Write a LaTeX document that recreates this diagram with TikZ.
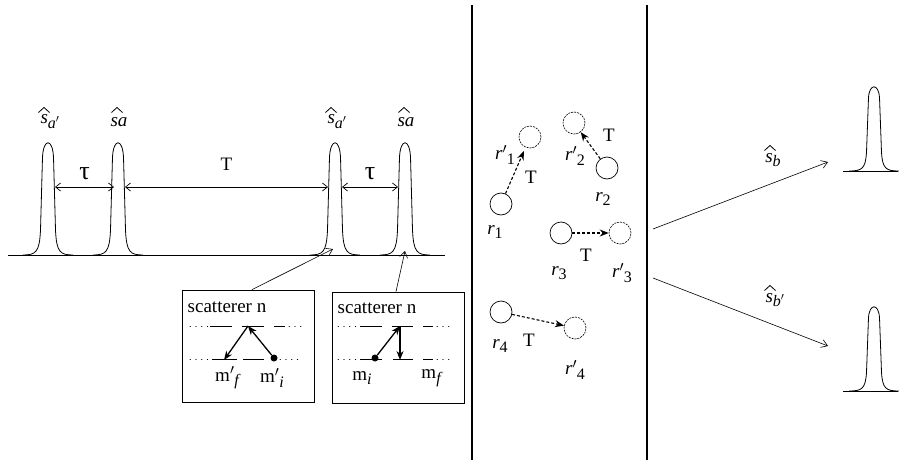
\documentclass[tikz,border=0pt]{standalone}
\usepackage{amsmath}
\usepackage{fontspec}
\setmainfont{Liberation Serif}
\usetikzlibrary{positioning, arrows.meta}

\newcommand{\subtxt}[1]{\raisebox{-0.55ex}{\fontsize{16}{16}\selectfont #1}}

\begin{document}
\begin{tikzpicture}[x=1pt, y=-1pt,
    lbl/.style={font=\fontsize{19}{22}\selectfont, inner sep=0pt},
    greek/.style={font=\fontsize{26}{28}\selectfont, inner sep=0pt},
    ebox/.style={rectangle, draw, line width=0.8pt,
                 minimum width=132pt, minimum height=112pt},
    atom/.style={circle, draw, line width=0.7pt, minimum size=22pt, inner sep=0pt},
    ghost/.style={atom, dash pattern=on 2pt off 1pt, line width=0.6pt},
    jump/.style={line width=1.3pt, -{Stealth[length=9pt, width=7pt]}},
    move/.style={line width=1.1pt, dash pattern=on 3pt off 2pt,
                 -{Stealth[length=9pt, width=7pt]}},
    dim/.style={line width=0.7pt,
                {Straight Barb[length=5pt, width=8pt]}-{Straight Barb[length=5pt, width=8pt]}},
    feed/.style={line width=0.6pt, -{Straight Barb[length=6pt, width=8pt]}},
    lvl/.style={line width=0.8pt},
    dots/.style={line width=1pt, line cap=round, dash pattern=on 0.3pt off 5.5pt},
    hatmark/.pic={\draw[line width=0.8pt] (-5.5,2.5) -- (0,-2.5) -- (5.5,2.5);},
    pulse/.pic={\draw[line width=0.8pt] (-25,0) .. controls (-12,0) and (-8.5,-3) .. (-7.5,-25)
                -- (-5.5,-98) .. controls (-4.5,-117) and (4.5,-117) .. (5.5,-98)
                -- (7.5,-25) .. controls (8.5,-3) and (12,0) .. (25,0);}
]
  \useasboundingbox (0,0) rectangle (899,460);

  % incoming pulse train
  \draw[line width=0.8pt] (8,255) -- (445,255);
  \foreach \px in {48,118,335,405}
    \pic at (\px,255) {pulse};
  \node[lbl] (sa1) at (50,122) {\textit{s}\subtxt{\textit{a}$'$}};
  \node[lbl] (sb1) at (119,122) {\textit{sa}};
  \node[lbl] (sa2) at (337,122) {\textit{s}\subtxt{\textit{a}$'$}};
  \node[lbl] (sb2) at (406,122) {\textit{sa}};
  \pic at ([shift={(-6,-12)}]sa1) {hatmark};
  \pic at ([shift={(-2,-12)}]sb1) {hatmark};
  \pic at ([shift={(-6,-12)}]sa2) {hatmark};
  \pic at ([shift={(-2,-12)}]sb2) {hatmark};

  % delays
  \coordinate (t1a) at (55,187);
  \coordinate (t1b) at (114,187);
  \coordinate (Ta) at (125,187);
  \coordinate (Tb) at (328,187);
  \coordinate (t2a) at (342,187);
  \coordinate (t2b) at (398,187);
  \draw[dim] (t1a) -- (t1b) node[midway, above=7pt, greek] {τ};
  \draw[dim] (Ta) -- (Tb) node[midway, above=16pt, lbl] {T};
  \draw[dim] (t2a) -- (t2b) node[midway, above=7pt, greek] {τ};

  % scatterer boxes
  \node[ebox] (boxp) at (248,346) {};
  \node[ebox, minimum height=111pt] (boxq) at (398,347.5) {};
  \coordinate (hit3) at (333,249);
  \coordinate (hit4) at (405,251);
  \draw[feed] ([xshift=4pt]boxp.north) -- (hit3);
  \draw[feed] ([xshift=-2pt]boxq.north) -- (hit4);
  \node[lbl] (scp) at (227,307) {scatterer n};
  \node[lbl] (scq) at (377,308) {scatterer n};

  % levels, left box
  \draw[dots] (190,326) -- (208,326);
  \draw[dots] (289,326) -- (303,326);
  \draw[dots] (190,359) -- (208,359);
  \draw[dots] (280,359) -- (303,359);
  \foreach \a/\b in {210/232, 242/264, 274/285}
    \draw[lvl] (\a,326) -- (\b,326);
  \foreach \a/\b in {212/237, 243/264}
    \draw[lvl] (\a,359) -- (\b,359);
  \node[circle, fill, inner sep=0pt, minimum size=7pt] (mip) at (274,358) {};
  \coordinate (topp) at (248,326);
  \coordinate (mfp) at (224,360);
  \draw[jump] (mip) -- (topp);
  \draw[jump] (topp) -- (mfp);
  \node[lbl] (mfpl) at (228,378) {m$'$\subtxt{\textit{f}}};
  \node[lbl] (mipl) at (272,378) {m$'$\subtxt{\textit{i}}};

  % levels, right box
  \draw[dots] (338,326) -- (357,326);
  \draw[dots] (437,326) -- (453,326);
  \draw[dots] (338,359) -- (357,359);
  \draw[dots] (437,359) -- (453,359);
  \foreach \a/\b in {360/382, 392/413, 423/433}
    \draw[lvl] (\a,326) -- (\b,326);
  \foreach \a/\b in {360/382, 393/413, 423/433}
    \draw[lvl] (\a,359) -- (\b,359);
  \node[circle, fill, inner sep=0pt, minimum size=7pt] (miq) at (375,358) {};
  \coordinate (topq) at (400,326);
  \coordinate (mfq) at (400,360);
  \draw[jump] (miq) -- (topq);
  \draw[jump] (topq) -- (mfq);
  \node[lbl] (miql) at (362,378) {m\subtxt{\textit{i}}};
  \node[lbl] (mfql) at (432,378) {m\subtxt{\textit{f}}};

  % medium
  \draw[line width=1.2pt] (472,5) -- (472,460);
  \draw[line width=1.2pt] (647,5) -- (647,460);

  \node[atom] (r1) at (501,204) {};
  \node[ghost] (r1p) at (530,137) {};
  \node[atom] (r2) at (607,168) {};
  \node[ghost] (r2p) at (574,123) {};
  \node[atom] (r3) at (561,233) {};
  \node[ghost] (r3p) at (620,233) {};
  \node[atom] (r4) at (501,312) {};
  \node[ghost] (r4p) at (575,328) {};
  \draw[move, shorten >=4pt] (r1) -- (r1p);
  \draw[move] (r2) -- (r2p);
  \draw[move] (r3) -- (r3p);
  \draw[move] (r4) -- (r4p);

  \node[lbl] (l1p) at (505,155) {\textit{r}$'$\subtxt{1}};
  \node[lbl] (T1) at (531,177) {T};
  \node[lbl] (l1) at (495,232) {\textit{r}\subtxt{1}};
  \node[lbl] (l2p) at (575,156) {\textit{r}$'$\subtxt{2}};
  \node[lbl] (T2) at (609,135) {T};
  \node[lbl] (l2) at (603,199) {\textit{r}\subtxt{2}};
  \node[lbl] (T3) at (586,255) {T};
  \node[lbl] (l3) at (559,273) {\textit{r}\subtxt{3}};
  \node[lbl] (l3p) at (622,273) {\textit{r}$'$\subtxt{3}};
  \node[lbl] (l4) at (500,346) {\textit{r}\subtxt{4}};
  \node[lbl] (T4) at (529,340) {T};
  \node[lbl] (l4p) at (575,370) {\textit{r}$'$\subtxt{4}};

  % outgoing
  \coordinate (o1) at (653,229);
  \coordinate (i1) at (828,162);
  \coordinate (o2) at (653,278);
  \coordinate (i2) at (828,346);
  \draw[feed] (o1) -- (i1);
  \draw[feed] (o2) -- (i2);
  \node[lbl] (sbo) at (773,160) {\textit{s}\subtxt{\textit{b}}};
  \node[lbl] (sbpo) at (775,300) {\textit{s}\subtxt{\textit{b}$'$}};
  \pic at ([shift={(-3,-12)}]sbo) {hatmark};
  \pic at ([shift={(-5,-12)}]sbpo) {hatmark};
  \draw[line width=0.8pt] (843,171) -- (898,171);
  \pic[yscale=0.75] at (874,171) {pulse};
  \draw[line width=0.8pt] (843,391) -- (898,391);
  \pic[yscale=0.75] at (874,391) {pulse};
\end{tikzpicture}
\end{document}
